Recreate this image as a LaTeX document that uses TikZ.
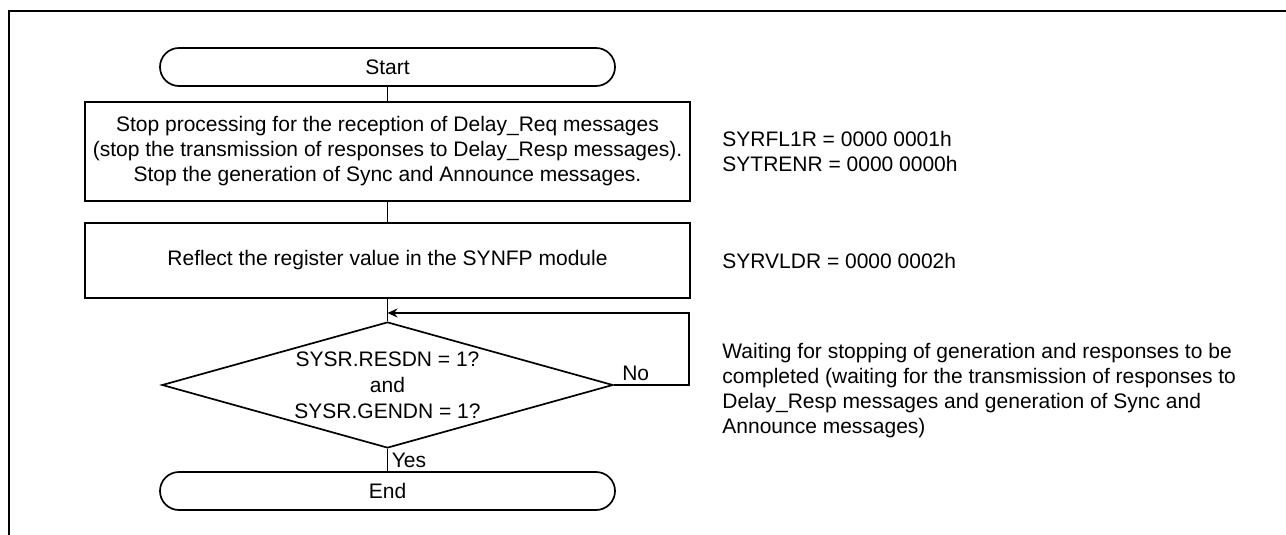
\documentclass[tikz,border=0pt]{standalone}
\usepackage{fontspec}
\setmainfont{Liberation Sans}
\usepackage{tikz}
\usetikzlibrary{arrows.meta,positioning,shapes.geometric,calc}
\definecolor{ink}{HTML}{000000}
\tikzset{
  termbox/.style={draw=ink,line width=0.85pt,rounded corners=9.5pt,
                  minimum width=227.5pt,minimum height=19pt,
                  inner sep=0pt,align=center,font=\fontsize{10.5}{12.5}\selectfont},
  procbox/.style={draw=ink,line width=0.85pt,
                  minimum width=302.5pt,inner sep=0pt,
                  align=center,font=\fontsize{10.5}{12.5}\selectfont},
  decbox/.style={diamond,draw=ink,line width=0.85pt,shape aspect=3.58,
                 minimum width=225.5pt,minimum height=63pt,inner sep=0pt,
                 align=center,font=\fontsize{10.5}{13}\selectfont},
  notetext/.style={anchor=west,align=left,inner sep=0pt,
                   font=\fontsize{10.5}{12.5}\selectfont},
  branchlbl/.style={inner sep=2pt,font=\fontsize{10.5}{12.5}\selectfont},
  flowline/.style={line width=0.85pt,draw=ink},
  flowarr/.style={-{Stealth[length=5pt,width=4.5pt]},line width=0.85pt,draw=ink}
}
\begin{document}
\begin{tikzpicture}[x=0.5pt,y=-0.5pt]
  \useasboundingbox (0,0) rectangle (1286,535);

  % Outer frame (cut off at the right and bottom)
  \draw[line width=1.2pt] (9,535) -- (9,11) -- (1286,11);

  % Flow nodes
  \node[termbox] (start) at (387.5,67) {Start};
  \node[procbox,minimum height=49.5pt] (stopproc) at (387.5,151.5) {%
    Stop processing for the reception of Delay\_Req messages\\
    (stop the transmission of responses to Delay\_Resp messages).\\
    Stop the generation of Sync and Announce messages.};
  \node[procbox,minimum height=37.5pt] (reflect) at (387.5,260.5)
    {Reflect the register value in the SYNFP module};
  \node[decbox] (check) at (387.5,385) {%
    SYSR.RESDN = 1?\\ and\\ SYSR.GENDN = 1?};
  \node[termbox] (finish) at (387.5,491) {End};

  % Register notes
  \node[notetext] (regnote1) at (722,151) {%
    SYRFL1R = 0000 0001h\\ SYTRENR = 0000 0000h};
  \node[notetext] (regnote2) at (722,260.5) {SYRVLDR = 0000 0002h};
  \node[notetext] (waitnote) at (722,391) {%
    Waiting for stopping of generation and responses to be\\
    completed (waiting for the transmission of responses to\\
    Delay\_Resp messages and generation of Sync and\\
    Announce messages)};

  % Connectors
  \coordinate (loopin) at (387.5,313);
  \coordinate (loopturn) at (689,313);
  \draw[flowline] (start.south) -- (stopproc.north);
  \draw[flowline] (stopproc.south) -- (reflect.north);
  \draw[flowline] (reflect.south) -- (check.north);
  \draw[flowarr] (check.east) -| (loopturn) -- (loopin);
  \draw[flowline] (check.south) -- (finish.north);

  % Branch labels
  \node[branchlbl,anchor=south west,xshift=2pt] (nolbl) at (check.east) {No};
  \node[branchlbl,anchor=north west] (yeslbl) at (check.south) {Yes};
\end{tikzpicture}
\end{document}
